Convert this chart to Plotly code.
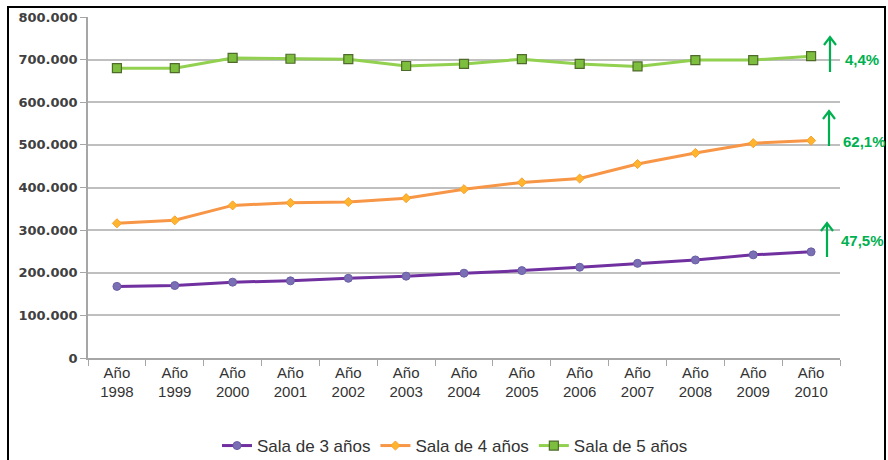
import plotly.graph_objects as go

years = ["1998", "1999", "2000", "2001", "2002", "2003", "2004", "2005", "2006", "2007", "2008", "2009", "2010"]
categories = ["Año<br>" + y for y in years]
sala3 = [168000, 170000, 178000, 181000, 187000, 192000, 199000, 205000, 213000, 222000, 230000, 242000, 249000]
sala4 = [316000, 323000, 358000, 364000, 366000, 375000, 396000, 412000, 421000, 455000, 481000, 504000, 510000]
sala5 = [680000, 680000, 704000, 702000, 701000, 685000, 690000, 701000, 690000, 684000, 699000, 699000, 708000]
growth_labels = ["4,4%", "62,1%", "47,5%"]
y_ticks = [0, 100000, 200000, 300000, 400000, 500000, 600000, 700000, 800000]

W, H = 888, 460
L, R, T, B = 88, 840, 17, 358

def px(x):
    return (x - L) / (R - L)

def py(y):
    return (B - y) / (B - T)

fig = go.Figure()
fig.add_trace(go.Scatter(
    x=categories, y=sala3, name="Sala de 3 años", mode="lines+markers",
    line=dict(color="#7030A0", width=3),
    marker=dict(symbol="circle", size=8, color="#7A6FB5", line=dict(color="#6A5FA5", width=1)),
))
fig.add_trace(go.Scatter(
    x=categories, y=sala4, name="Sala de 4 años", mode="lines+markers",
    line=dict(color="#F79646", width=3),
    marker=dict(symbol="diamond", size=7, color="#FFB62E", line=dict(color="#F7A030", width=1)),
))
fig.add_trace(go.Scatter(
    x=categories, y=sala5, name="Sala de 5 años", mode="lines+markers",
    line=dict(color="#92D050", width=3),
    marker=dict(symbol="square", size=9, color="#7DBE3E", line=dict(color="#4F6B2A", width=1.2)),
))

shapes = []
annotations = []
green = "#00B050"
arrows = [(830, 37, 72, 862, 59, growth_labels[0], 30, 82),
          (829, 111, 146, 864, 141, growth_labels[1], 105, 152),
          (827, 223, 257, 862, 240, growth_labels[2], 216, 263)]
for ax_, top, bot, tx, ty, lab, by0, by1 in arrows:
    shapes.append(dict(type="rect", xref="paper", yref="paper", layer="between",
                       x0=px(815), x1=px(886), y0=py(by1), y1=py(by0),
                       fillcolor="white", line=dict(width=0)))
    path = (f"M {px(ax_)} {py(bot)} L {px(ax_)} {py(top)} "
            f"M {px(ax_-6)} {py(top+8)} L {px(ax_)} {py(top)} L {px(ax_+6)} {py(top+8)}")
    shapes.append(dict(type="path", xref="paper", yref="paper", path=path,
                       line=dict(color=green, width=2.2)))
    annotations.append(dict(xref="paper", yref="paper", x=px(tx), y=py(ty), text="<b>" + lab + "</b>",
                            showarrow=False, font=dict(family="Liberation Sans", size=15, color=green),
                            xanchor="center", yanchor="middle"))

# outer frame
shapes.append(dict(type="rect", xref="paper", yref="paper", layer="above",
                   x0=px(8), x1=px(885), y0=py(500), y1=py(7),
                   line=dict(color="black", width=2), fillcolor="rgba(0,0,0,0)"))

fig.update_layout(
    width=W, height=H,
    margin=dict(l=L, r=W - R, t=T, b=H - B, autoexpand=False),
    paper_bgcolor="white", plot_bgcolor="white",
    separators=",.",
    showlegend=True,
    legend=dict(orientation="h", xref="container", x=455 / W, xanchor="center",
                yref="container", y=1 - 446 / H, yanchor="middle",
                font=dict(family="Liberation Sans", size=17, color="#333333"),
                itemwidth=30, traceorder="normal"),
    shapes=shapes, annotations=annotations,
)
fig.update_xaxes(
    type="category", tickson="boundaries", ticks="outside", ticklen=6, tickcolor="#A6A6A6",
    showline=True, linecolor="#A6A6A6", linewidth=1.5, showgrid=False,
    tickfont=dict(family="Liberation Sans", size=15, color="#333333"),
    range=[-0.5, len(categories) - 0.5], fixedrange=True,
)
fig.update_yaxes(
    range=[0, 800000], tickvals=y_ticks, tickformat=",.0f",
    ticks="outside", ticklen=6, tickcolor="#A6A6A6",
    showline=True, linecolor="#A6A6A6", linewidth=1.5,
    showgrid=True, gridcolor="#BFBFBF", gridwidth=1.5, zeroline=False,
    tickfont=dict(family="DejaVu Sans", size=13, color="#404040", weight="bold"),
)

fig.write_html("out.html", config={"displayModeBar": False})
with open("out.html", "r", encoding="utf-8") as f:
    html = f.read()
html = html.replace("<head>", "<head><style>html,body{margin:0;padding:0;overflow:hidden;}</style>", 1)
with open("out.html", "w", encoding="utf-8") as f:
    f.write(html)
